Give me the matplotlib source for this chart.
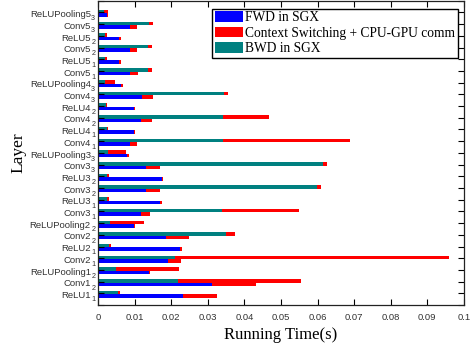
import matplotlib
matplotlib.use("Agg")
import matplotlib.pyplot as plt
import matplotlib.transforms as mtransforms
import numpy as np

# layers listed bottom -> top (name, subscript)
layer_names = ["ReLU1", "Conv1", "ReLUPooling1", "Conv2", "ReLU2",
               "Conv2", "ReLUPooling2", "Conv3", "ReLU3", "Conv3",
               "ReLU3", "Conv3", "ReLUPooling3", "Conv4", "ReLU4",
               "Conv4", "ReLU4", "Conv4", "ReLUPooling4", "Conv5",
               "ReLU5", "Conv5", "ReLU5", "Conv5", "ReLUPooling5"]
layer_subs = ["1", "2", "2", "1", "1",
              "2", "2", "1", "1", "2",
              "2", "3", "3", "1", "1",
              "2", "2", "3", "3", "1",
              "1", "2", "2", "3", "3"]

# forward pass: FWD in SGX + context switching
fwd = [0.0233, 0.0312, 0.0138, 0.0191, 0.0225, 0.0186, 0.0098, 0.0117, 0.0170, 0.0131,
       0.0174, 0.0130, 0.0080, 0.0087, 0.0097, 0.0117, 0.0097, 0.0119, 0.0064, 0.0087,
       0.0058, 0.0087, 0.0058, 0.0087, 0.0025]
fwd_cs = [0.0093, 0.0121, 0.0004, 0.0035, 0.0004, 0.0062, 0.0004, 0.0024, 0.0004, 0.0039,
          0.0003, 0.0039, 0.0004, 0.0020, 0.0003, 0.0031, 0.0003, 0.0030, 0.0004, 0.0021,
          0.0004, 0.0020, 0.0004, 0.0020, 0.0002]
# backward pass: BWD in SGX + context switching
bwd = [0.0055, 0.0219, 0.0049, 0.0211, 0.0030, 0.0351, 0.0033, 0.0340, 0.0025, 0.0599,
       0.0025, 0.0616, 0.0026, 0.0342, 0.0025, 0.0342, 0.0022, 0.0344, 0.0020, 0.0137,
       0.0020, 0.0136, 0.0019, 0.0140, 0.0016]
bwd_cs = [0.0005, 0.0337, 0.0172, 0.0747, 0.0006, 0.0024, 0.0093, 0.0210, 0.0005, 0.0010,
          0.0005, 0.0010, 0.0051, 0.0347, 0.0003, 0.0125, 0.0003, 0.0011, 0.0026, 0.0010,
          0.0004, 0.0011, 0.0005, 0.0010, 0.0012]

xticks = [0, 0.01, 0.02, 0.03, 0.04, 0.05, 0.06, 0.07, 0.08, 0.09, 0.1]
xticklabels = ["0", "0.01", "0.02", "0.03", "0.04", "0.05", "0.06", "0.07", "0.08", "0.09", "0.1"]

blue = "#0000FF"
red = "#FF0000"
teal = "#008080"

fig = plt.figure(figsize=(4.74, 3.49), dpi=100)
ax = fig.add_axes([0.2068, 0.126, 0.772, 0.872])

y = np.arange(1, len(layer_names) + 1)
h = 0.30
off = 0.08
fwd = np.array(fwd); bwd = np.array(bwd)
ax.barh(y - off - h / 2, fwd, height=h, color=blue, label="FWD in SGX")
ax.barh(y - off - h / 2, fwd_cs, left=fwd, height=h, color=red,
        label="Context Switching + CPU-GPU comm")
ax.barh(y - off + h / 2, bwd, height=h, color=teal, label="BWD in SGX")
ax.barh(y - off + h / 2, bwd_cs, left=bwd, height=h, color=red)

ax.set_xlim(0, 0.1)
ax.set_ylim(0, 26)
ax.set_xticks(xticks)
ax.set_xticklabels(xticklabels, fontsize=6.8, family="Liberation Sans", color="#333333")
ax.set_yticks(np.arange(0, 27))
ax.set_yticklabels([""] + layer_names + [""], fontsize=6.8, family="Liberation Sans",
                   color="#333333")
ax.tick_params(direction="in", length=4, width=0.8, top=True, right=True)
ax.tick_params(axis="x", pad=6)
ax.tick_params(axis="y", pad=5.2)
# shift y tick labels slightly down
for lbl in ax.get_yticklabels():
    lbl.set_transform(lbl.get_transform() + mtransforms.ScaledTranslation(0, -1.2 / 100, fig.dpi_scale_trans))

# subscripts, placed lower-right of each label
sub_tr = mtransforms.blended_transform_factory(ax.transAxes, ax.transData)
for yi, s in zip(y, layer_subs):
    ax.annotate(s, xy=(0, yi), xycoords=sub_tr, xytext=(-4.9, -4.6), textcoords="offset points",
                ha="left", va="center", fontsize=5.2, family="Liberation Sans", color="#333333",
                annotation_clip=False)

for s in ax.spines.values():
    s.set_linewidth(0.9)
    s.set_color("#222222")

ax.set_xlabel("Running Time(s)", fontsize=12, family="Liberation Serif", labelpad=3)
ax.set_ylabel("Layer", fontsize=12.5, family="Liberation Serif", labelpad=2)

handles, labels = ax.get_legend_handles_labels()
leg = ax.legend(handles, labels, loc="upper right", bbox_to_anchor=(0.984, 0.974),
                borderaxespad=0, fancybox=False, framealpha=1, edgecolor="black",
                prop={"family": "Liberation Serif", "size": 9.75},
                handlelength=2.1, handleheight=0.8, handletextpad=0.15,
                labelspacing=0.18, borderpad=0.2)
leg.get_frame().set_linewidth(1.0)

fig.savefig("out.png", dpi=100)
